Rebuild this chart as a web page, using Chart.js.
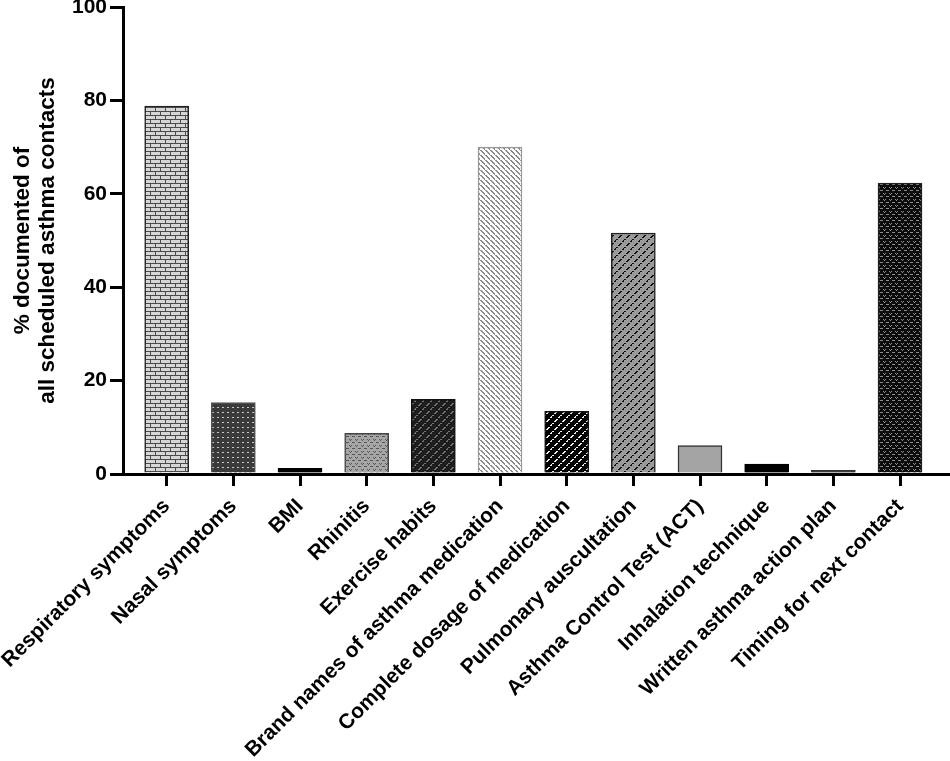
<!DOCTYPE html>
<html>
<head>
<meta charset="utf-8">
<script src="https://cdn.jsdelivr.net/npm/chart.js@4.4.1/dist/chart.umd.min.js"></script>
<style>
  html, body { margin: 0; padding: 0; background: #fff; }
  #wrap { width: 950px; height: 761px; }
</style>
</head>
<body>
<div id="wrap"><canvas id="chart" width="950" height="761"></canvas></div>
<script>
const categories = [
  'Respiratory symptoms', 'Nasal symptoms', 'BMI', 'Rhinitis', 'Exercise habits',
  'Brand names of asthma medication', 'Complete dosage of medication',
  'Pulmonary auscultation', 'Asthma Control Test (ACT)', 'Inhalation technique',
  'Written asthma action plan', 'Timing for next contact'
];
const values = [78.8, 15.3, 1.2, 8.7, 16.0, 70.0, 13.4, 51.6, 6.1, 2.1, 0.8, 62.3];
const yTicks = [0, 20, 40, 60, 80, 100];

// small tile patterns, one per bar
function tile(w, h, draw) {
  const c = document.createElement('canvas');
  c.width = w; c.height = h;
  const g = c.getContext('2d');
  draw(g);
  return g.createPattern(c, 'repeat');
}
function px(g, col, pts) {
  g.fillStyle = col;
  pts.forEach(p => g.fillRect(p[0], p[1], p[2] || 1, p[3] || 1));
}
function dashes(g, bg, fg) {
  g.fillStyle = bg; g.fillRect(0, 0, 8, 8);
  g.fillStyle = fg;
  for (let i = 0; i < 3; i++) { g.fillRect(2 + i, 5 - i, 2, 1); g.fillRect((6 + i) % 8, (1 - i + 8) % 8, 2, 1); }
}

const brick = tile(10, 8, g => {
  g.fillStyle = '#d6d6d6'; g.fillRect(0, 0, 10, 8);
  px(g, '#4a4a4a', [[0, 3, 10, 1], [0, 7, 10, 1], [0, 0, 1, 3], [5, 4, 1, 3]]);
});
const dots = tile(5, 5, g => {
  g.fillStyle = '#3a3a3a'; g.fillRect(0, 0, 5, 5);
  px(g, '#c8c8c8', [[2, 2, 2, 1]]);
});
const vees = tile(6, 6, g => {
  g.fillStyle = '#a6a6a6'; g.fillRect(0, 0, 6, 6);
  px(g, '#555', [[1, 1], [3, 1], [2, 2], [4, 4], [0, 4], [5, 4]]);
});
const dashDark = tile(8, 8, g => dashes(g, '#1e1e1e', '#707070'));
const hatch = tile(5, 5, g => {
  g.fillStyle = '#ffffff'; g.fillRect(0, 0, 5, 5);
  g.fillStyle = '#8a8a8a';
  for (let i = 0; i < 5; i++) g.fillRect(i, i, 1, 1);
  for (let i = 0; i < 4; i++) g.fillRect(i + 1, i, 1, 1);
});
const dashWhite = tile(8, 8, g => dashes(g, '#000', '#f0f0f0'));
const dashGray = tile(8, 8, g => dashes(g, '#9a9a9a', '#111'));
const veesDark = tile(6, 6, g => {
  g.fillStyle = '#0c0c0c'; g.fillRect(0, 0, 6, 6);
  px(g, '#8c8c8c', [[1, 1], [3, 1], [2, 2], [4, 4], [0, 4], [5, 4]]);
});

const fills = [brick, dots, '#000000', vees, dashDark, hatch, dashWhite, dashGray, '#a4a4a4', '#000000', '#3c3c3c', veesDark];
const borders = ['#222', '#555', '#000', '#444', '#111', '#999', '#111', '#222', '#333', '#000', '#333', '#222'];

const FONT = '"Liberation Sans", Arial, Helvetica, sans-serif';

const chart = new Chart(document.getElementById('chart'), {
  type: 'bar',
  data: {
    datasets: [{
      data: values.map((v, i) => ({ x: i, y: v })),
      backgroundColor: fills,
      borderColor: borders,
      borderWidth: 1.5,
      borderSkipped: 'start',
      barThickness: 44
    }]
  },
  options: {
    responsive: false,
    animation: false,
    devicePixelRatio: 1,
    layout: { padding: { top: 7, right: 2, left: 0, bottom: 0 } },
    plugins: { legend: { display: false }, tooltip: { enabled: false } },
    scales: {
      x: {
        type: 'linear',
        offset: false,
        min: -0.655,
        max: 11.72,
        afterBuildTicks: s => { s.ticks = categories.map((c, i) => ({ value: i })); },
        afterFit: s => { s.height = 287; s.paddingLeft = 0; s.paddingRight = 0; },
        grid: { offset: false, drawOnChartArea: false, drawTicks: true, tickLength: 12, lineWidth: 3, color: '#000' },
        border: { display: true, width: 3, color: '#000' },
        ticks: {
          autoSkip: false,
          minRotation: 45,
          maxRotation: 45,
          padding: 8,
          color: '#000',
          font: { family: FONT, size: 21, weight: 'bold' },
          callback: v => categories[v]
        }
      },
      y: {
        min: 0,
        max: 100,
        afterBuildTicks: s => { s.ticks = yTicks.map(v => ({ value: v })); },
        afterFit: s => { s.width = 123; s.paddingTop = 0; s.paddingBottom = 0; },
        grid: { drawOnChartArea: false, drawTicks: true, tickLength: 13, lineWidth: 3, color: '#000' },
        border: { display: true, width: 3, color: '#000' },
        ticks: {
          padding: 3,
          color: '#000',
          font: { family: FONT, size: 21, weight: 'bold' }
        },
        title: {
          display: true,
          text: ['% documented of', 'all scheduled asthma contacts'],
          color: '#000',
          font: { family: FONT, size: 22.5, weight: 'bold', lineHeight: 1.12 },
          padding: { top: 10, bottom: 4 }
        }
      }
    }
  }
});
</script>
</body>
</html>
